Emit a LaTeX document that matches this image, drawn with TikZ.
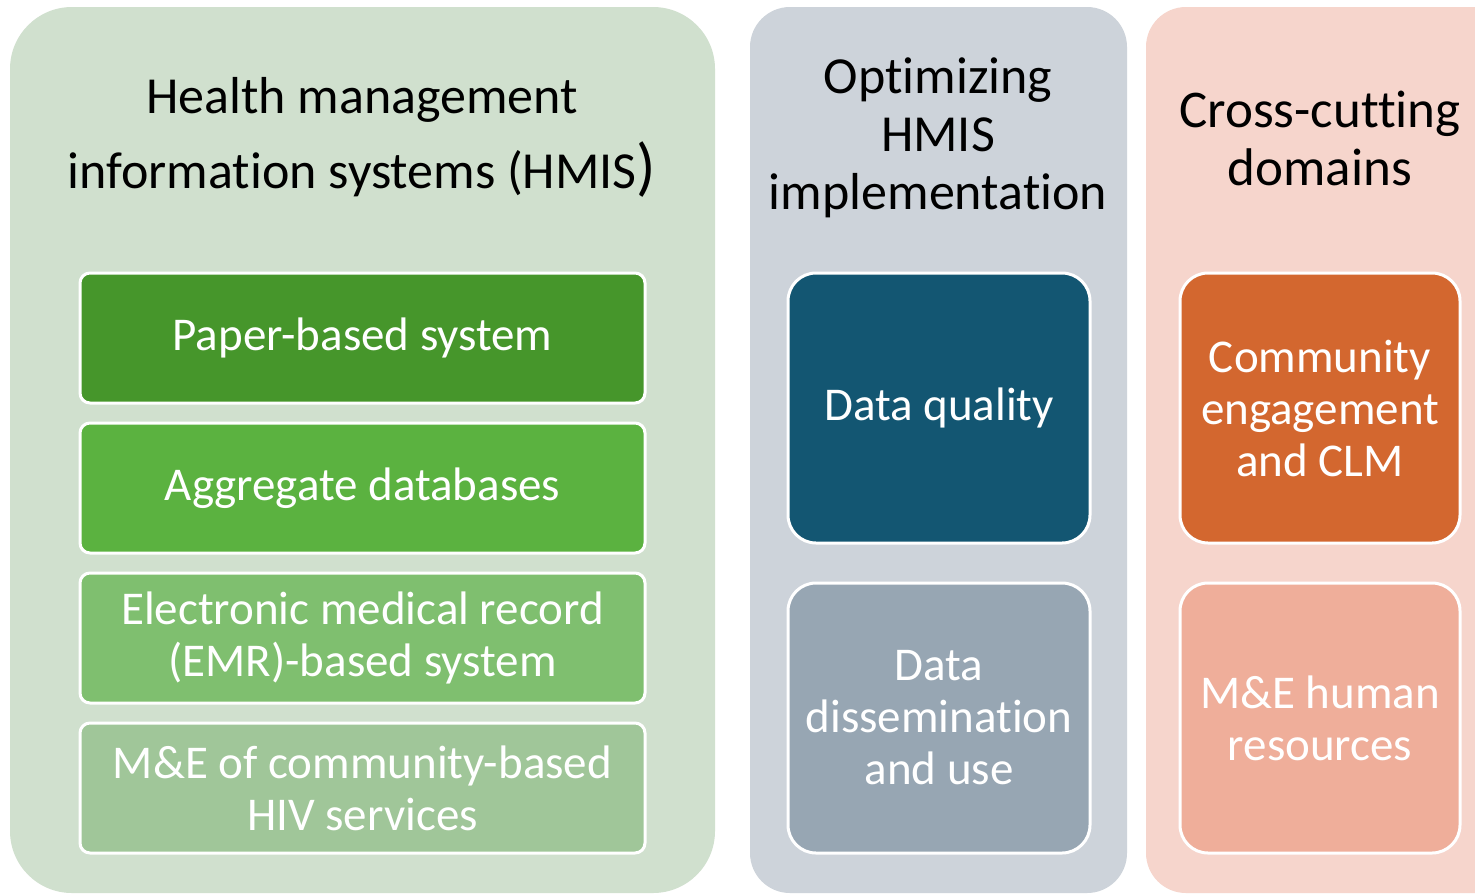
\documentclass[tikz,border=0pt]{standalone}
\usepackage{fontspec}
\setmainfont[RawFeature={-liga,-clig,-calt,-dlig}]{Carlito}
\begin{document}
\begin{tikzpicture}[x=1pt,y=-1pt,
  inbox/.style={draw=white, line width=3pt, rounded corners=#1, text=white, align=center, inner sep=0pt, outer sep=0pt, font=\fontsize{47}{52}\selectfont},
  inbox/.default=10pt,
  ttl/.style={align=center, text=black, inner sep=0pt}
]
\definecolor{pgreen}{HTML}{D0E0CE}
\definecolor{pgray}{HTML}{CDD3DA}
\definecolor{ppink}{HTML}{F6D5CC}
\definecolor{gA}{HTML}{46962B}
\definecolor{gB}{HTML}{5BB240}
\definecolor{gC}{HTML}{7FBF6F}
\definecolor{gD}{HTML}{A0C699}
\definecolor{bA}{HTML}{135672}
\definecolor{bB}{HTML}{97A6B3}
\definecolor{oA}{HTML}{D3672F}
\definecolor{oB}{HTML}{EFAE9A}
\useasboundingbox (0,0) rectangle (1475,895);
\clip (0,0) rectangle (1475,895);
\fill[white] (0,0) rectangle (1475,895);
% panels
\fill[pgreen, rounded corners=62pt] (10,7) rectangle (715,893);
\fill[pgray, rounded corners=40pt] (750,7) rectangle (1127,893);
\fill[ppink, rounded corners=40pt] (1146,7) rectangle (1540,893);
% titles
\node[ttl, font=\fontsize{52}{75}\selectfont] (t1) at (362,137) {Health management\\information systems (HMIS{\fontsize{64}{64}\selectfont)}};
\node[ttl, font=\fontsize{52}{58}\selectfont] (t2) at (938,138) {Optimizing\\HMIS\\implementation};
\node[ttl, font=\fontsize{53}{58}\selectfont] (t3) at (1320,138) {Cross-cutting\\domains};
% left boxes
\node[inbox, fill=gA, minimum width=565pt, minimum height=130pt] (b1) at (362.5,338) {Paper-based system};
\node[inbox, fill=gB, minimum width=565pt, minimum height=130pt] (b2) at (362.5,488) {Aggregate databases};
\node[inbox, fill=gC, minimum width=565pt, minimum height=130pt] (b3) at (362.5,638) {Electronic medical record\\(EMR)-based system};
\node[inbox, fill=gD, minimum width=565pt, minimum height=130pt] (b4) at (362.5,788) {M\&E of community-based\\HIV services};
% middle boxes
\node[inbox=28pt, fill=bA, minimum width=302pt, minimum height=270pt] (m1) at (939,408) {Data quality};
\node[inbox=28pt, fill=bB, minimum width=302pt, minimum height=270pt] (m2) at (939,718) {Data\\dissemination\\and use};
% right boxes
\node[inbox=28pt, fill=oA, minimum width=280pt, minimum height=270pt] (r1) at (1320,408) {Community\\engagement\\and CLM};
\node[inbox=28pt, fill=oB, minimum width=280pt, minimum height=270pt] (r2) at (1320,718) {M\&E human\\resources};
\end{tikzpicture}
\end{document}
